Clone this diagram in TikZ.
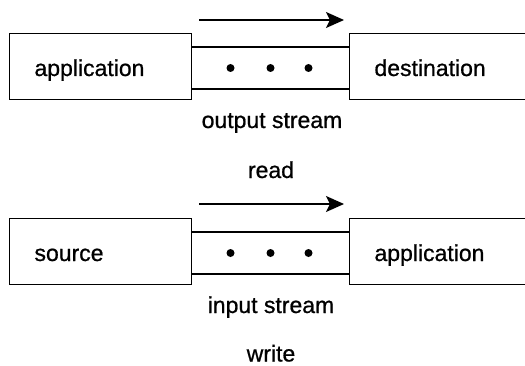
\documentclass[tikz,border=0pt]{standalone}
\usepackage{fontspec}
\setmainfont[FakeBold=0.8]{Liberation Sans}
\usetikzlibrary{arrows.meta}

\tikzset{
	endBox/.style={rectangle, line width=1.5pt, draw=black, minimum width=182pt, minimum height=66pt, text width=132pt, inner xsep=25pt, align=left, text height=22pt, text depth=3pt, font=\fontsize{23}{27}\selectfont},
	pipeBox/.style={rectangle, minimum width=158pt, minimum height=42pt, inner sep=0pt},
	pipeWall/.style={line width=1.5pt},
	streamLabel/.style={anchor=base, inner sep=0pt, font=\fontsize{23}{27}\selectfont},
	flowArrow/.style={line width=1.5pt, -{Stealth[length=18pt, width=16pt, inset=4pt]}}
}

\begin{document}
\begin{tikzpicture}[x=1pt, y=1pt]
		\clip (0,0) rectangle (525,365);
		% output stream
		\node[endBox](outApp) at (100.5,298.5){application};
		\node[endBox](outDest) at (440.5,298.5){destination};
		\node[pipeBox](outPipe) at (270.5,297){};
		\draw[pipeWall] (outPipe.north west) -- (outPipe.north east);
		\draw[pipeWall] (outPipe.south west) -- (outPipe.south east);
		\foreach \dx in {-40,0,38} \fill ([xshift=\dx pt]outPipe.center) circle (4pt);
		\coordinate (outFrom) at (199,345);
		\coordinate (outTo) at (344,345);
		\draw[flowArrow] (outFrom) -- (outTo);
		\node[streamLabel](outName) at (272,237){output stream};
		\node[streamLabel](readName) at (271,187){read};
		% input stream
		\node[endBox](inSrc) at (100.5,113.5){source};
		\node[endBox](inApp) at (440.5,113.5){application};
		\node[pipeBox](inPipe) at (270.5,112){};
		\draw[pipeWall] (inPipe.north west) -- (inPipe.north east);
		\draw[pipeWall] (inPipe.south west) -- (inPipe.south east);
		\foreach \dx in {-40,0,38} \fill ([xshift=\dx pt]inPipe.center) circle (4pt);
		\coordinate (inFrom) at (199,161);
		\coordinate (inTo) at (344,161);
		\draw[flowArrow] (inFrom) -- (inTo);
		\node[streamLabel](inName) at (271,52){input stream};
		\node[streamLabel](writeName) at (271,3.5){write};
	\end{tikzpicture}
\end{document}
